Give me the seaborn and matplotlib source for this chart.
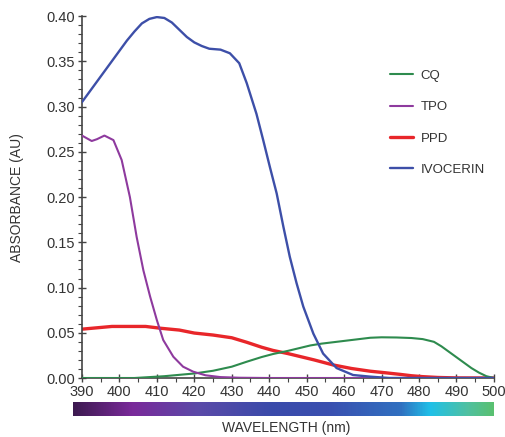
import numpy as np
import pandas as pd
import matplotlib
matplotlib.use("Agg")
import matplotlib.pyplot as plt
from matplotlib.colors import LinearSegmentedColormap
from matplotlib.ticker import MultipleLocator
import seaborn as sns

# ---- data ----
cq_wl = [390, 400, 404, 408, 412, 416, 420, 425, 430, 434, 438, 441, 445, 448, 451,
         454, 457, 460, 464, 467, 470, 474, 478, 481, 484, 486, 488, 490, 492, 494,
         496, 498, 500]
cq_ab = [0, 0, 0, 0.001, 0.002, 0.0035, 0.005, 0.008, 0.0125, 0.018, 0.0232, 0.0265,
         0.030, 0.033, 0.036, 0.038, 0.0395, 0.041, 0.043, 0.0445, 0.045, 0.0448,
         0.0442, 0.043, 0.040, 0.035, 0.029, 0.023, 0.017, 0.011, 0.006, 0.002, 0]

tpo_wl = [390, 392.6, 394, 396, 398.4, 400.6, 402.8, 404.6, 406.4, 408.2, 410, 411.7,
          414.4, 417, 419.7, 423, 427, 432, 440, 500]
tpo_ab = [0.268, 0.262, 0.264, 0.268, 0.263, 0.241, 0.200, 0.156, 0.119, 0.090, 0.064,
          0.042, 0.0235, 0.0125, 0.007, 0.003, 0.001, 0.0003, 0, 0]

ppd_wl = [390, 394, 398, 403, 407, 411, 416, 420, 425, 430, 434, 438, 441, 445, 448,
          452, 457, 462, 467, 471, 475, 478, 481, 485, 490, 500]
ppd_ab = [0.054, 0.0555, 0.057, 0.057, 0.057, 0.055, 0.053, 0.0497, 0.0475, 0.0445,
          0.0395, 0.034, 0.0305, 0.027, 0.024, 0.020, 0.0145, 0.0105, 0.0075, 0.0058,
          0.004, 0.0025, 0.0015, 0.0006, 0.0001, 0]

ivo_wl = [390, 393, 396, 399, 402, 404, 406, 408, 410, 412, 414, 416, 418, 420, 422,
          424, 427, 429.5, 432, 434, 436.6, 438.4, 440.2, 442, 443.8, 445.5, 447.3,
          449.1, 451.8, 454.4, 458, 462.4, 467, 472, 500]
ivo_ab = [0.305, 0.322, 0.339, 0.356, 0.373, 0.383, 0.392, 0.397, 0.399, 0.398, 0.393,
          0.385, 0.377, 0.371, 0.367, 0.364, 0.363, 0.359, 0.348, 0.326, 0.292, 0.263,
          0.233, 0.204, 0.167, 0.134, 0.105, 0.079, 0.049, 0.027, 0.011, 0.0033,
          0.0015, 0, 0]

series_names = ["CQ", "TPO", "PPD", "IVOCERIN"]
series_colors = ["#2e8b4e", "#8e3a9e", "#e8262a", "#3d4fa8"]

spectrum_colors = ["#3d1a50", "#7a2a9a", "#5a4aa8", "#3a4aaa", "#3a50b0",
                   "#3070c0", "#20c0e8", "#50c0a0", "#5ac070"]
spectrum_pos = [0.0, 0.14, 0.30, 0.47, 0.61, 0.78, 0.85, 0.94, 1.0]

x_ticks = list(range(390, 501, 10))
y_ticks = [0.00, 0.05, 0.10, 0.15, 0.20, 0.25, 0.30, 0.35, 0.40]

frames = []
for name, wl, ab in zip(series_names,
                        [cq_wl, tpo_wl, ppd_wl, ivo_wl],
                        [cq_ab, tpo_ab, ppd_ab, ivo_ab]):
    frames.append(pd.DataFrame({"wl": wl, "ab": ab, "series": name}))
df = pd.concat(frames, ignore_index=True)

sns.set_style("ticks")
plt.rcParams["font.family"] = ["Liberation Sans", "DejaVu Sans"]
text_color = "#333333"

fig = plt.figure(figsize=(5.06, 4.37), dpi=100)
ax = fig.add_axes([0.162, 0.135, 0.814, 0.828])

palette = dict(zip(series_names, series_colors))
widths = {"CQ": 1.5, "TPO": 1.5, "PPD": 2.4, "IVOCERIN": 1.7}
for name in series_names:
    sub = df[df["series"] == name]
    line_kws = dict(solid_joinstyle="round", solid_capstyle="round")
    sns.lineplot(data=sub, x="wl", y="ab", color=palette[name], lw=widths[name],
                 ax=ax, label=name, zorder=3 if name != "PPD" else 2, **line_kws)

ax.set_xlim(390, 500)
ax.set_ylim(0, 0.40)
ax.set_xticks(x_ticks)
ax.set_yticks(y_ticks)
ax.set_xticklabels([str(t) for t in x_ticks])
ax.set_yticklabels([f"{t:.2f}" for t in y_ticks])
ax.xaxis.set_minor_locator(MultipleLocator(5))
ax.yaxis.set_minor_locator(MultipleLocator(0.01))
ax.tick_params(axis="both", which="major", direction="inout", length=6, width=1,
               colors="#444444", labelsize=10.5, labelcolor=text_color, pad=2)
ax.tick_params(axis="both", which="minor", direction="out", length=3, width=0.8,
               colors="#444444")
for s in ["top", "right"]:
    ax.spines[s].set_visible(False)
for s in ["left", "bottom"]:
    ax.spines[s].set_color("#444444")
    ax.spines[s].set_linewidth(1.2)
ax.set_xlabel("")
ax.set_ylabel("ABSORBANCE (AU)", fontsize=10, color=text_color, labelpad=16)

leg = ax.legend(loc="upper left", bbox_to_anchor=(0.72, 0.885), frameon=False,
                fontsize=9.5, handlelength=1.7, handletextpad=0.6,
                labelspacing=1.45, labelcolor=text_color)

# spectrum bar
cax = fig.add_axes([0.144, 0.048, 0.832, 0.032])
cmap = LinearSegmentedColormap.from_list("spec", list(zip(spectrum_pos, spectrum_colors)))
grad = np.linspace(0, 1, 512).reshape(1, -1)
cax.imshow(grad, aspect="auto", cmap=cmap, extent=[0, 1, 0, 1])
cax.set_axis_off()
fig.text(0.565, 0.02, "WAVELENGTH (nm)", ha="center", va="center",
         fontsize=10, color=text_color)

fig.savefig("out.png", dpi=100)
